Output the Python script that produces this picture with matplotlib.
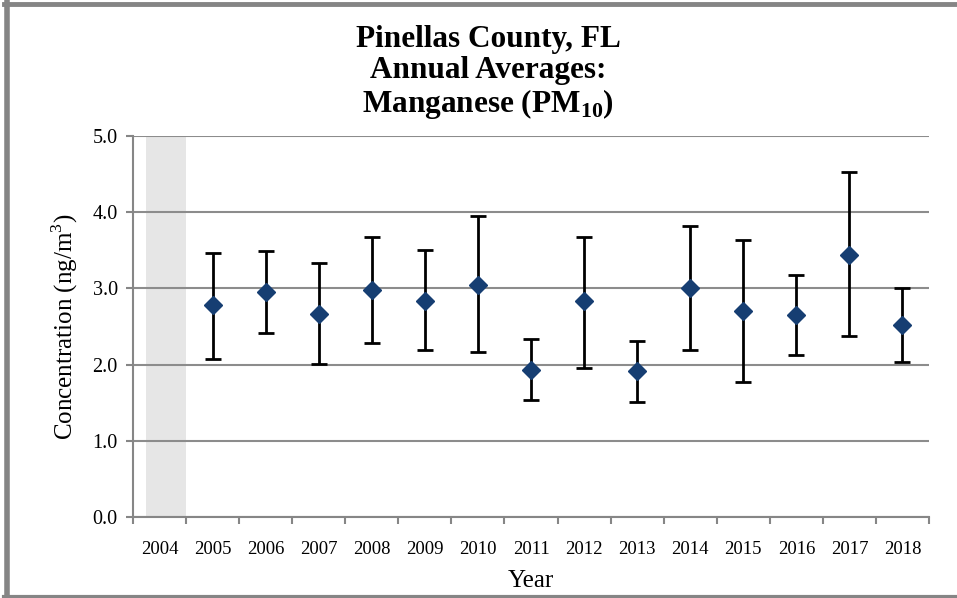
import matplotlib
matplotlib.use('Agg')
import matplotlib.pyplot as plt
from matplotlib.lines import Line2D

plt.rcParams['font.family'] = ['Liberation Serif', 'DejaVu Serif']
plt.rcParams['mathtext.fontset'] = 'custom'
plt.rcParams['mathtext.rm'] = 'Liberation Serif'
plt.rcParams['mathtext.bf'] = 'Liberation Serif:bold'

# Annual averages and 95% confidence limits (ng/m3); 2004 has no data
years = ['2004', '2005', '2006', '2007', '2008', '2009', '2010', '2011',
         '2012', '2013', '2014', '2015', '2016', '2017', '2018']
data_years = years[1:]
means = [2.78, 2.95, 2.66, 2.98, 2.84, 3.05, 1.93, 2.83, 1.91, 3.01, 2.70, 2.65, 3.44, 2.52]
upper = [3.46, 3.49, 3.33, 3.67, 3.51, 3.95, 2.34, 3.68, 2.31, 3.82, 3.63, 3.17, 4.53, 3.01]
lower = [2.08, 2.41, 2.01, 2.29, 2.19, 2.16, 1.53, 1.95, 1.51, 2.19, 1.77, 2.13, 2.37, 2.03]

W, H = 957, 598
fig = plt.figure(figsize=(W / 100, H / 100), dpi=100)
ax = fig.add_axes([133 / W, 1 - 517 / H, (929 - 133) / W, (517 - 136) / H])

x_all = list(range(len(years)))
x_data = [years.index(y) for y in data_years]

# grey band marking the year without data
ax.axvspan(-0.255, 0.5, color='#e6e6e6', zorder=0, lw=0)

err = [[m - l for m, l in zip(means, lower)], [u - m for u, m in zip(upper, means)]]
ax.errorbar(x_data, means, yerr=err, fmt='D', color='#163e72', ms=9,
            mec='#163e72', ecolor='black', elinewidth=2, capsize=6, capthick=2,
            zorder=3)

ax.set_xlim(-0.5, len(years) - 0.5)
ax.set_ylim(0, 5)
ax.set_yticks([0, 1, 2, 3, 4, 5])
ax.set_yticklabels(['%.1f' % v for v in [0, 1, 2, 3, 4, 5]], fontsize=14.5)
ax.set_xticks(x_all)
ax.set_xticklabels(years, fontsize=13.5)
ax.set_xticks([i - 0.5 for i in range(len(years) + 1)], minor=True)
ax.tick_params(axis='x', which='major', length=0, pad=17)
ax.tick_params(axis='x', which='minor', length=5, color='#868686', width=1.5)
ax.tick_params(axis='y', length=5, color='#868686', width=1.5, pad=6)

ax.grid(axis='y', color='#8c8c8c', lw=1.5, zorder=1)
ax.set_axisbelow(True)
for s in ['top', 'right']:
    ax.spines[s].set_visible(False)
for s in ['left', 'bottom']:
    ax.spines[s].set_color('#868686')
    ax.spines[s].set_linewidth(1.5)

ax.set_xlabel('Year', fontsize=18, labelpad=9)
ax.set_ylabel(r'Concentration (ng/m$^\mathrm{3}$)', fontsize=18, labelpad=9)

fig.text(488 / W, 1 - 73 / H,
         'Pinellas County, FL\nAnnual Averages:\n' + r'Manganese (PM$_\mathbf{10}$)',
         ha='center', va='center', fontsize=22.5, fontweight='bold', linespacing=1.1)

# outer frame (top, left, bottom)
fc = '#858585'
fig.add_artist(Line2D([4 / W, 1], [1 - 4 / H, 1 - 4 / H], color=fc, lw=3.5,
                      transform=fig.transFigure))
fig.add_artist(Line2D([6.5 / W, 6.5 / W], [0, 1], color=fc, lw=4,
                      transform=fig.transFigure))
fig.add_artist(Line2D([4 / W, 1], [1.5 / H, 1.5 / H], color=fc, lw=3,
                      transform=fig.transFigure))

fig.savefig('out.png', dpi=100)
